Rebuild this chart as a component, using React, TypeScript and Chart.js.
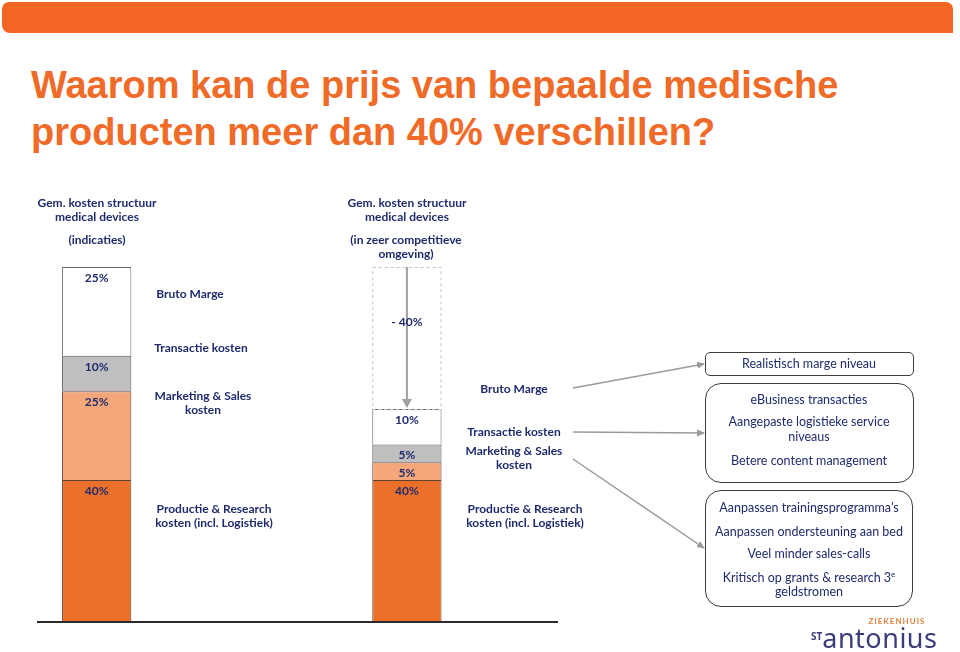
import React, { useEffect, useRef } from "react";
import { Chart, registerables } from "chart.js";

Chart.register(...registerables);

// ---------- data ----------
const categories = [
  "Gem. kosten structuur medical devices (indicaties)",
  "",
  "",
  "Gem. kosten structuur medical devices (in zeer competitieve omgeving)",
  "",
];
const productieResearch = [40, null, null, 40, null];
const marketingSales = [25, null, null, 5, null];
const transactieKosten = [10, null, null, 5, null];
const brutoMarge = [25, null, null, 10, null];
const prijsReductie = [null, null, null, 40, null];
const reductieLabel = "- 40%";
const yMax = 100;

const NAVY = "#1F2B6E";
const FONT = "Lato, 'Open Sans', sans-serif";
const ORANGE = "#F26522";

const annotPlugin = {
  id: "annot",
  afterDatasetsDraw(chart: any) {
    const ctx: CanvasRenderingContext2D = chart.ctx;
    const area = chart.chartArea;
    ctx.save();
    // baseline
    ctx.strokeStyle = "#2b2b2b";
    ctx.lineWidth = 2;
    ctx.beginPath();
    ctx.moveTo(area.left - 8, area.bottom);
    ctx.lineTo(area.right - 4, area.bottom);
    ctx.stroke();

    // value labels
    ctx.font = `bold 12px ${FONT}`;
    ctx.fillStyle = NAVY;
    ctx.textAlign = "center";
    ctx.textBaseline = "middle";
    for (let d = 0; d < 4; d++) {
      const meta = chart.getDatasetMeta(d);
      const values = chart.data.datasets[d].data;
      meta.data.forEach((el: any, i: number) => {
        const v = values[i];
        if (v == null) return;
        ctx.fillText(`${v}%`, el.x, el.y + 11);
      });
    }

    // dashed reduction box + arrow
    const rmeta = chart.getDatasetMeta(4);
    rmeta.data.forEach((el: any, i: number) => {
      if (prijsReductie[i] == null) return;
      const w = el.width;
      const left = el.x - w / 2;
      const top = el.y;
      const bottom = el.base;
      ctx.setLineDash([3, 3]);
      ctx.strokeStyle = "#c4c4c4";
      ctx.lineWidth = 1;
      ctx.strokeRect(left + 0.5, top + 0.5, w - 1, bottom - top);
      ctx.setLineDash([]);
      ctx.strokeStyle = "#a0a0a0";
      ctx.lineWidth = 2;
      ctx.beginPath();
      ctx.moveTo(el.x, top);
      ctx.lineTo(el.x, bottom - 3);
      ctx.stroke();
      ctx.fillStyle = "#a0a0a0";
      ctx.beginPath();
      ctx.moveTo(el.x - 5, bottom - 10);
      ctx.lineTo(el.x + 5, bottom - 10);
      ctx.lineTo(el.x, bottom - 1);
      ctx.closePath();
      ctx.fill();
      ctx.fillStyle = NAVY;
      ctx.font = `bold 12px ${FONT}`;
      ctx.fillText(reductieLabel, el.x, top + 55);
    });
    ctx.restore();
  },
};

function T(props: {
  x: number;
  y: number;
  s?: number;
  b?: boolean;
  c?: string;
  children: React.ReactNode;
}) {
  const s = props.s ?? 12;
  const lh = Math.round(s * 1.3);
  return (
    <div
      style={{
        position: "absolute",
        left: props.x,
        top: props.y - lh / 2,
        height: lh,
        transform: "translateX(-50%)",
        fontSize: s,
        lineHeight: `${lh}px`,
        fontWeight: props.b ? 700 : 400,
        color: props.c ?? NAVY,
        whiteSpace: "nowrap",
        fontFamily: FONT,
      }}
    >
      {props.children}
    </div>
  );
}

function Box(props: { x: number; y: number; w: number; h: number; r: number }) {
  return (
    <div
      style={{
        position: "absolute",
        left: props.x,
        top: props.y,
        width: props.w,
        height: props.h,
        border: "1.3px solid #3d3d3d",
        borderRadius: props.r,
        boxSizing: "border-box",
        background: "#fff",
      }}
    />
  );
}

export default function App() {
  const ref = useRef<HTMLCanvasElement>(null);

  useEffect(() => {
    if (!ref.current) return;
    const border = "#5e4136";
    const chart = new Chart(ref.current, {
      type: "bar",
      data: {
        labels: categories,
        datasets: [
          { label: "Productie & Research kosten (incl. Logistiek)", data: productieResearch, backgroundColor: "#EB712A", borderColor: border, borderWidth: 1 },
          { label: "Marketing & Sales kosten", data: marketingSales, backgroundColor: "#F4A77B", borderColor: border, borderWidth: 1 },
          { label: "Transactie kosten", data: transactieKosten, backgroundColor: "#BFBFBF", borderColor: "#5a5a5a", borderWidth: 1 },
          { label: "Bruto Marge", data: brutoMarge, backgroundColor: "#FFFFFF", borderColor: "#6a6a6a", borderWidth: 1 },
          { label: "Prijsreductie", data: prijsReductie, backgroundColor: "rgba(0,0,0,0)", borderWidth: 0 },
        ],
      },
      options: {
        responsive: false,
        maintainAspectRatio: false,
        animation: false,
        layout: { padding: { left: 45, right: 398, top: 267, bottom: 30 } },
        datasets: { bar: { barPercentage: 0.67, categoryPercentage: 1 } },
        scales: {
          x: { display: false, stacked: true },
          y: { display: false, stacked: true, min: 0, max: yMax },
        },
        plugins: { legend: { display: false }, tooltip: { enabled: false } },
      },
      plugins: [annotPlugin],
    } as any);
    return () => chart.destroy();
  }, []);

  return (
    <div
      style={{
        position: "absolute",
        left: 0,
        top: 0,
        width: 960,
        height: 652,
        overflow: "hidden",
        background: "#fff",
      }}
    >
      {/* top bar */}
      <div
        style={{
          position: "absolute",
          left: 2,
          top: 2,
          width: 951,
          height: 31,
          background: ORANGE,
          borderRadius: "7px 7px 0 8px",
        }}
      />
      {/* title */}
      <div
        style={{
          position: "absolute",
          left: 31,
          top: 62,
          fontFamily: "'Liberation Sans', Arial, sans-serif",
          fontWeight: 700,
          fontSize: 38,
          lineHeight: "47px",
          color: "#F06A28",
          whiteSpace: "nowrap",
        }}
      >
        Waarom kan de prijs van bepaalde medische
        <br />
        producten meer dan 40% verschillen?
      </div>

      <canvas
        ref={ref}
        width={960}
        height={652}
        style={{ position: "absolute", left: 0, top: 0, width: 960, height: 652 }}
      />

      {/* connector arrows */}
      <svg
        width={960}
        height={652}
        style={{ position: "absolute", left: 0, top: 0, pointerEvents: "none" }}
      >
        <defs>
          <marker id="ah" markerWidth="8" markerHeight="8" refX="7" refY="4" orient="auto" markerUnits="userSpaceOnUse">
            <path d="M0,0.5 L8,4 L0,7.5 z" fill="#9a9a9a" />
          </marker>
        </defs>
        <line x1={573} y1={388} x2={704} y2={364} stroke="#9a9a9a" strokeWidth={1.5} markerEnd="url(#ah)" />
        <line x1={573} y1={432} x2={704} y2={433} stroke="#9a9a9a" strokeWidth={1.5} markerEnd="url(#ah)" />
        <line x1={573} y1={459} x2={704} y2={548} stroke="#9a9a9a" strokeWidth={1.5} markerEnd="url(#ah)" />
      </svg>

      {/* headers */}
      <T x={97} y={203} b>Gem. kosten structuur</T>
      <T x={97} y={217} b>medical devices</T>
      <T x={97} y={240} b>(indicaties)</T>
      <T x={407} y={203} b>Gem. kosten structuur</T>
      <T x={407} y={217} b>medical devices</T>
      <T x={406} y={240} b>(in zeer competitieve</T>
      <T x={406} y={254} b>omgeving)</T>

      {/* left labels */}
      <T x={190} y={294} b>Bruto Marge</T>
      <T x={201} y={348} b>Transactie kosten</T>
      <T x={203} y={396} b>Marketing &amp; Sales</T>
      <T x={203} y={410} b>kosten</T>
      <T x={214} y={509} b>Productie &amp; Research</T>
      <T x={214} y={523} b>kosten (incl. Logistiek)</T>

      {/* right labels */}
      <T x={514} y={389} b>Bruto Marge</T>
      <T x={514} y={432} b>Transactie kosten</T>
      <T x={514} y={451} b>Marketing &amp; Sales</T>
      <T x={514} y={465} b>kosten</T>
      <T x={525} y={509} b>Productie &amp; Research</T>
      <T x={525} y={523} b>kosten (incl. Logistiek)</T>

      {/* boxes */}
      <Box x={705} y={352} w={209} h={24} r={5} />
      <Box x={705} y={383} w={209} h={100} r={16} />
      <Box x={705} y={490} w={208} h={117} r={16} />
      <T x={809} y={364} s={12.5}>Realistisch marge niveau</T>
      <T x={809} y={400} s={12.5}>eBusiness transacties</T>
      <T x={809} y={422} s={12.5}>Aangepaste logistieke service</T>
      <T x={809} y={437} s={12.5}>niveaus</T>
      <T x={809} y={461} s={12.5}>Betere content management</T>
      <T x={809} y={508} s={12.5}>Aanpassen trainingsprogramma’s</T>
      <T x={809} y={532} s={12.5}>Aanpassen ondersteuning aan bed</T>
      <T x={809} y={554} s={12.5}>Veel minder sales-calls</T>
      <T x={809} y={578} s={12.5}>
        Kritisch op grants &amp; research 3
        <span style={{ fontSize: 8, position: "relative", top: -5, lineHeight: 0 }}>e</span>
      </T>
      <T x={809} y={592} s={12.5}>geldstromen</T>

      {/* logo */}
      <T x={897} y={621} s={8} b c="#E0813E">
        <span style={{ letterSpacing: 1 }}>ZIEKENHUIS</span>
      </T>
      <div
        style={{
          position: "absolute",
          left: 811,
          top: 626,
          color: "#3C3B7C",
          fontFamily: "'Noto Sans', sans-serif",
          whiteSpace: "nowrap",
          lineHeight: "24px",
        }}
      >
        <span style={{ fontSize: 10, fontWeight: 700, position: "relative", top: -8 }}>ST</span>
        <span style={{ fontSize: 27, letterSpacing: 0.5 }}>antonius</span>
      </div>
    </div>
  );
}
